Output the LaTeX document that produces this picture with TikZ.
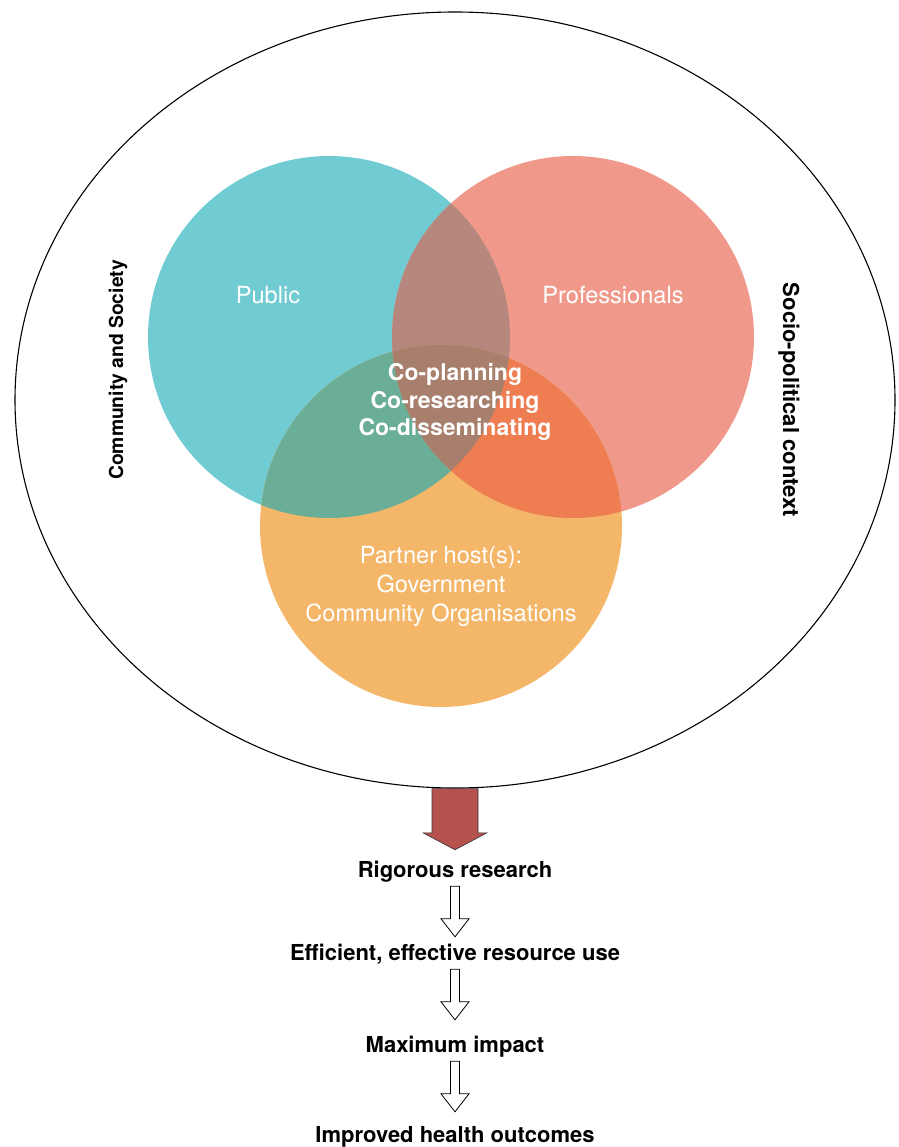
\documentclass[tikz,border=0pt]{standalone}
\usepackage{fontspec}
\setmainfont{TeX Gyre Heros}
\usetikzlibrary{shapes.geometric,calc}

\definecolor{pubcol}{RGB}{112,203,210}
\definecolor{procol}{RGB}{240,153,139}
\definecolor{hostcol}{RGB}{244,182,105}
\definecolor{pubpro}{RGB}{181,135,125}
\definecolor{pubhost}{RGB}{106,174,152}
\definecolor{prohost}{RGB}{238,125,82}
\definecolor{allthree}{RGB}{167,127,108}
\definecolor{brick}{RGB}{181,82,78}

\tikzset{
  venn/.style={circle, inner sep=0pt, minimum size=362pt},
  inlabel/.style={text=white, font=\fontsize{23.6}{29}\selectfont, align=center},
  corelabel/.style={text=white, font=\bfseries\fontsize{23}{27.5}\selectfont, align=center},
  outcome/.style={font=\bfseries\fontsize{22}{26}\selectfont, anchor=base,
    text height=15pt, text depth=4pt, inner ysep=5pt},
  hollowarrow/.style={draw=black, line width=0.8pt, fill=white, line join=miter,
    to path={let \p1=(\tikztostart), \p2=(\tikztotarget) in
      (\x1-4.5pt,\y1) -- (\x1+4.5pt,\y1) -- (\x1+4.5pt,\y2+18pt) -- (\x1+14pt,\y2+18pt)
      -- (\x1,\y2) -- (\x1-14pt,\y2+18pt) -- (\x1-4.5pt,\y2+18pt) -- cycle}},
  bigarrow/.style={draw=black!80, line width=0.6pt, fill=brick, line join=miter,
    to path={let \p1=(\tikztostart), \p2=(\tikztotarget) in
      (\x1-23pt,\y1) -- (\x1+23pt,\y1) -- (\x1+23pt,\y2+17pt) -- (\x1+32pt,\y2+17pt)
      -- (\x1,\y2) -- (\x1-32pt,\y2+17pt) -- (\x1-23pt,\y2+17pt) -- cycle}},
}

\begin{document}
\begin{tikzpicture}[x=1pt,y=-1pt]
\useasboundingbox (0,0) rectangle (898,1147);

% surrounding context
\node[ellipse, draw=black, line width=1.1pt, minimum width=880pt, minimum height=776pt,
      inner sep=0pt] (outer) at (455,400) {};

% the three circles
\coordinate (cpub) at (329,337);
\coordinate (cpro) at (573,337);
\coordinate (chost) at (441,526);
\node[venn, fill=pubcol] (pub) at (cpub) {};
\node[venn, fill=procol] (pro) at (cpro) {};
\node[venn, fill=hostcol] (host) at (chost) {};

% pairwise overlaps
\begin{scope}
  \clip (cpub) circle[radius=181pt];
  \fill[pubpro] (cpro) circle[radius=181pt];
  \fill[pubhost] (chost) circle[radius=181pt];
\end{scope}
\begin{scope}
  \clip (cpro) circle[radius=181pt];
  \fill[prohost] (chost) circle[radius=181pt];
\end{scope}
% central overlap
\begin{scope}
  \clip (cpub) circle[radius=181pt];
  \clip (cpro) circle[radius=181pt];
  \fill[allthree] (chost) circle[radius=181pt];
\end{scope}

% labels
\node[inlabel] (publbl) at (268,295) {Public};
\node[inlabel] (prolbl) at (613,295) {Professionals};
\node[inlabel] (hostlbl) at (441,586) {Partner host(s):\\Government\\Community Organisations};
\node[corelabel] (corelbl) at (455,402) {Co-planning\\Co-researching\\Co-disseminating};
\node[font=\bfseries\fontsize{19.3}{23}\selectfont, rotate=90] (comm) at (118,370) {Community and Society};
\node[font=\bfseries\fontsize{22}{26}\selectfont, rotate=-90] (socio) at (789,400) {Socio-political context};

% outcome chain
\node[outcome] (rig) at (455,877) {Rigorous research};
\node[outcome] (eff) at (455,960) {Efficient, effective resource use};
\node[outcome] (max) at (455,1052) {Maximum impact};
\node[outcome] (imp) at (455,1142) {Improved health outcomes};

\draw[bigarrow] (outer.south) to ([yshift=7pt]rig.north);
\draw[hollowarrow] (rig.south) to ([yshift=3pt]eff.north);
\draw[hollowarrow] (eff.south) to ([yshift=12pt]max.north);
\draw[hollowarrow] (max.south) to ([yshift=10pt]imp.north);
\end{tikzpicture}
\end{document}
